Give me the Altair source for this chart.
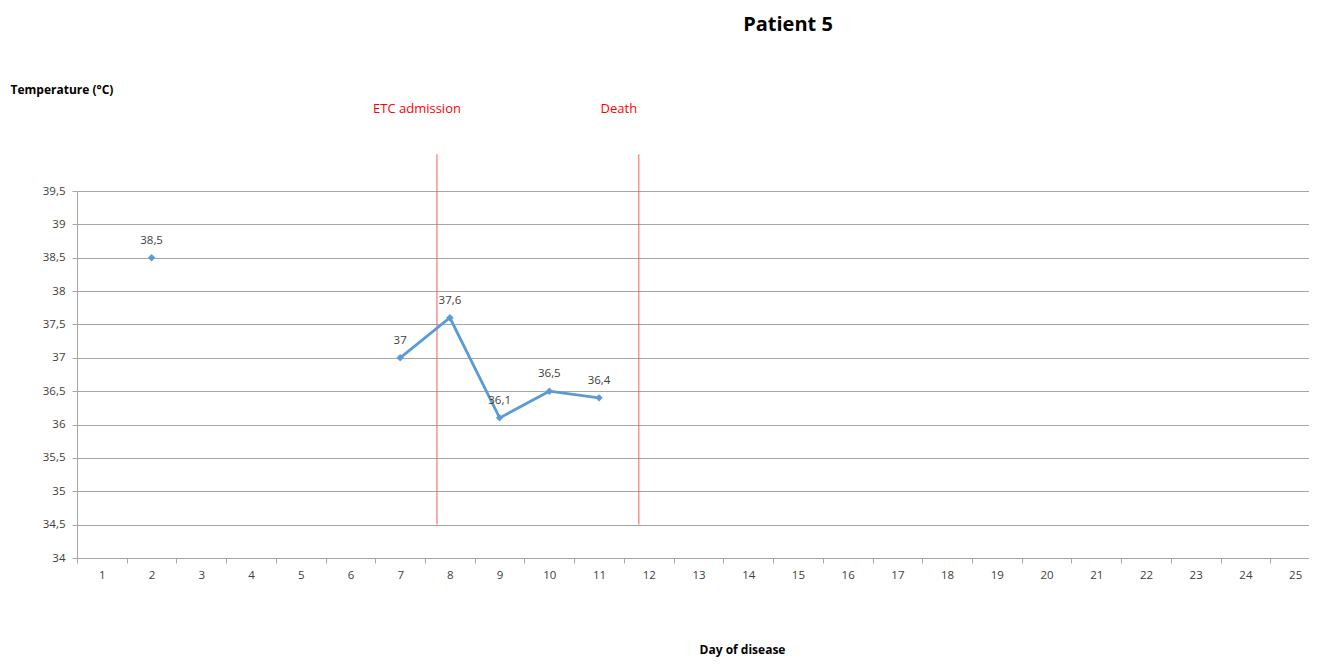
import altair as alt
import pandas as pd

# ---- data ----
temp_days = [2, 7, 8, 9, 10, 11]
temps = [38.5, 37.0, 37.6, 36.1, 36.5, 36.4]
line_days = [7, 8, 9, 10, 11]
line_temps = [37.0, 37.6, 36.1, 36.5, 36.4]
event_days = [7.74, 11.8]
event_names = ["ETC admission", "Death"]
day_edges = [i + 0.5 for i in range(0, 25)]
y_ticks = [34 + 0.5 * i for i in range(12)]


def fmt(v):
    return f"{v:g}".replace(".", ",")


points = pd.DataFrame({"day": temp_days, "temp": temps, "label": [fmt(t) for t in temps]})
line_df = pd.DataFrame({"day": line_days, "temp": line_temps})
events = pd.DataFrame({"day": event_days, "name": event_names})

FONT = "Open Sans"
BLUE = "#5b9bd5"
GRID = "#a6a6a6"
W, H = 1232, 367
BAND = 49.72  # px per day, as in the reference
X_MAX = 0.5 + W / BAND

x_scale = alt.Scale(domain=[0.5, X_MAX], nice=False, zero=False)
y_scale = alt.Scale(domain=[34, 39.5], nice=False, zero=False)

x_axis = alt.Axis(
    values=day_edges,
    labelExpr="format(datum.value + 0.5, 'd')",
    labelOffset=BAND / 2,
    labelFlush=False,
    labelOverlap=False,
    labelPadding=6,
    grid=False,
    tickSize=5,
    title="Day of disease",
    titleX=665,
    titleY=91,
    titleBaseline="middle",
    titleAlign="center",
)
y_axis = alt.Axis(
    values=y_ticks,
    labelExpr="replace(format(datum.value, '.1~f'), '.', ',')",
    labelPadding=7,
    tickSize=5,
    grid=True,
    title="Temperature (°C)",
    titleAngle=0,
    titleAlign="left",
    titleBaseline="middle",
    titleX=-67,
    titleY=-102,
)

X = alt.X("day:Q", scale=x_scale, axis=x_axis)
Y = alt.Y("temp:Q", scale=y_scale, axis=y_axis)

rules = alt.Chart(events).mark_rule(color="#ff5a5a", strokeWidth=1).encode(
    x=X,
    y=alt.Y(datum=40.05, scale=y_scale, axis=y_axis),
    y2=alt.Y2(datum=34.5),
)

event_text = alt.Chart(events).mark_text(
    color="#ff0000", font=FONT, fontSize=13, dx=-20, baseline="middle"
).encode(x=X, y=alt.value(-82), text="name:N")

line = alt.Chart(line_df).mark_line(color=BLUE, strokeWidth=2.8).encode(x=X, y=Y)

pts = alt.Chart(points).mark_point(
    shape="diamond", filled=True, color=BLUE, size=55, opacity=1
).encode(x=X, y=Y)

labels = alt.Chart(points).mark_text(
    font=FONT, fontSize=11.5, color="#404040", dy=-17, baseline="middle"
).encode(x=X, y=Y, text="label:N")

chart = (
    alt.layer(rules, line, pts, labels, event_text)
    .properties(
        width=W,
        height=H,
        autosize=alt.AutoSizeParams(type="none"),
        padding={"left": 69, "top": 183, "right": 0, "bottom": 102},
        title=alt.TitleParams(
            "Patient 5",
            font=FONT,
            fontSize=20,
            fontWeight="bold",
            color="#000000",
            anchor="middle",
            dx=95,
            offset=48,
        ),
    )
    .configure_view(stroke=None)
    .configure_axis(
        domainColor=GRID,
        gridColor=GRID,
        tickColor=GRID,
        labelColor="#404040",
        labelFont=FONT,
        labelFontSize=11.5,
        titleFont=FONT,
        titleFontSize=12,
        titleFontWeight="bold",
        titleColor="#000000",
    )
)

chart.save("out.html", embed_options={"renderer": "svg", "actions": False})
